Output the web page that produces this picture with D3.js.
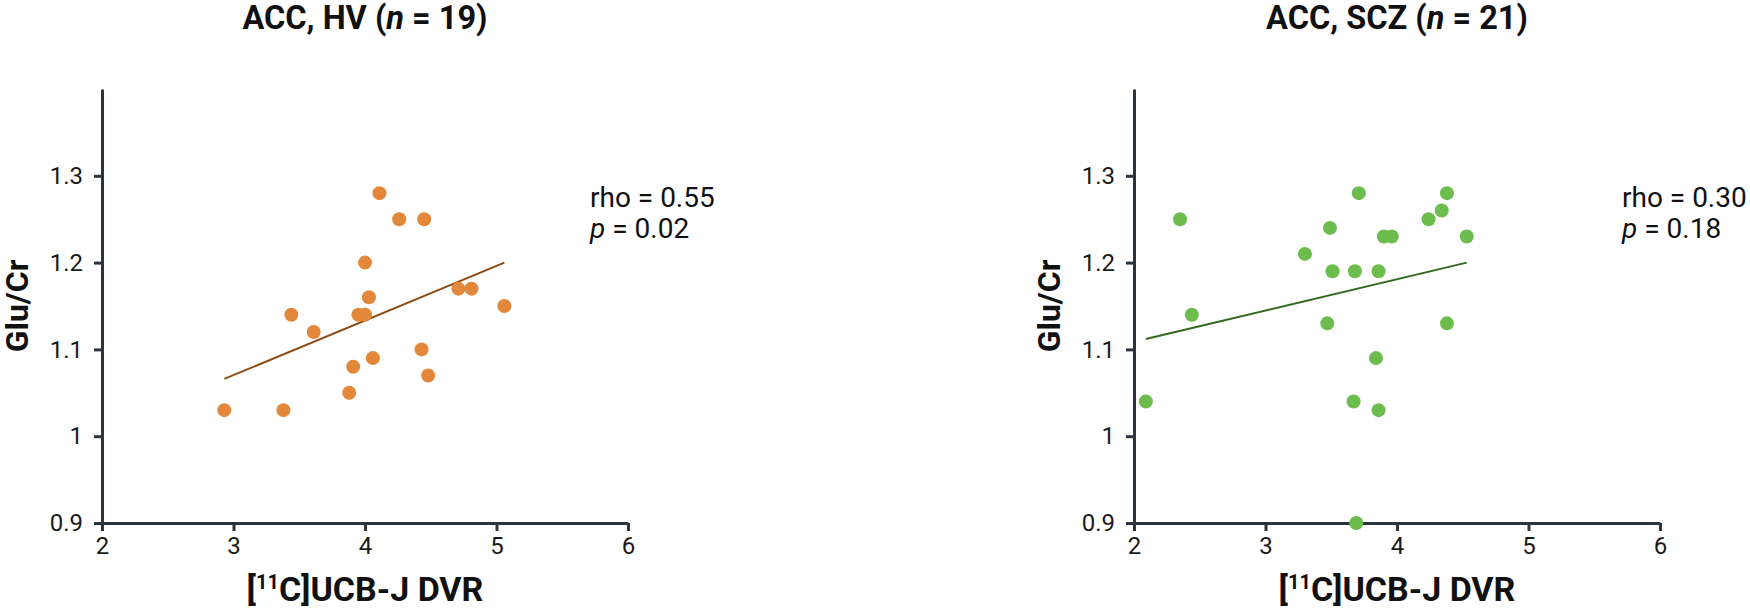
<!DOCTYPE html>
<html>
<head>
<meta charset="utf-8">
<script src="https://cdn.jsdelivr.net/npm/d3@7"></script>
<style>
  body { margin: 0; background: #fff; }
  svg { display: block; font-family: Roboto, "Noto Sans", sans-serif; }
</style>
</head>
<body>
<div id="chart"></div>
<script>
// Data
const hvDvr = [4.11, 4.26, 4.45, 4.00, 4.03, 3.44, 3.95, 4.00, 3.61, 4.71, 4.81, 5.06, 4.43, 4.06, 3.91, 4.48, 3.88, 2.93, 3.38];
const hvGlu = [1.28, 1.25, 1.25, 1.20, 1.16, 1.14, 1.14, 1.14, 1.12, 1.17, 1.17, 1.15, 1.10, 1.09, 1.08, 1.07, 1.05, 1.03, 1.03];

const sczDvr = [3.71, 4.38, 4.34, 2.35, 4.24, 3.49, 3.90, 3.96, 4.53, 3.30, 3.51, 3.68, 3.86, 2.44, 3.47, 4.38, 3.84, 2.09, 3.67, 3.86, 3.69];
const sczGlu = [1.28, 1.28, 1.26, 1.25, 1.25, 1.24, 1.23, 1.23, 1.23, 1.21, 1.19, 1.19, 1.19, 1.14, 1.13, 1.13, 1.09, 1.04, 1.04, 1.03, 0.90];

// fitted lines: [x start, x end], [y start, y end]
const hvFitX = [2.93, 5.06];
const hvFitY = [1.066, 1.200];
const sczFitX = [2.09, 4.53];
const sczFitY = [1.112, 1.200];

const xTicks = [2, 3, 4, 5, 6];
const yTicks = [0.9, 1.0, 1.1, 1.2, 1.3];
const yTickLabels = ["0.9", "1", "1.1", "1.2", "1.3"];

const panels = [
    { group: "HV", n: 19, x: hvDvr, y: hvGlu, fitX: hvFitX, fitY: hvFitY, rho: "0.55", p: "0.02", dot: "#e3883a", line: "#8c4b12" },
    { group: "SCZ", n: 21, x: sczDvr, y: sczGlu, fitX: sczFitX, fitY: sczFitY, rho: "0.30", p: "0.18", dot: "#6cbd4e", line: "#2f6a1f" }
];

const width = 1750, height = 608;
const axisColor = "#2c3440";

const svg = d3.select("#chart")
    .append("svg")
    .attr("width", width)
    .attr("height", height);

// left edge of each plot's x axis
const panelLeft = [102, 1134];
const plotW = 526;
const plotTop = 89, plotBottom = 523;

panels.forEach((d, i) => {
    const x = d3.scaleLinear().domain([2, 6]).range([panelLeft[i], panelLeft[i] + plotW]);
    const y = d3.scaleLinear().domain([0.9, 1.4]).range([plotBottom, plotTop]);

    const g = svg.append("g");

    // title
    const title = g.append("text")
        .attr("x", (x.range()[0] + x.range()[1]) / 2)
        .attr("y", 29)
        .attr("text-anchor", "middle")
        .attr("font-size", 32.5)
        .attr("font-weight", "bold")
        .attr("fill", "#111");
    title.append("tspan").text(`ACC, ${d.group} (`);
    title.append("tspan").attr("font-style", "italic").text("n");
    title.append("tspan").text(` = ${d.n})`);

    // x axis
    const xAxis = g.append("g")
        .attr("transform", `translate(0,${plotBottom})`)
        .call(d3.axisBottom(x).tickValues(xTicks).tickFormat(d3.format("d")).tickSize(8).tickPadding(6).tickSizeOuter(0));

    // y axis
    const yAxis = g.append("g")
        .attr("transform", `translate(${x.range()[0]},0)`)
        .call(d3.axisLeft(y).tickValues(yTicks).tickFormat((v, k) => yTickLabels[k]).tickSize(8).tickPadding(11).tickSizeOuter(0));

    [xAxis, yAxis].forEach(a => {
        a.select(".domain").attr("stroke", axisColor).attr("stroke-width", 3);
        a.selectAll(".tick line").attr("stroke", axisColor).attr("stroke-width", 3);
        a.selectAll(".tick text")
            .attr("font-family", "Roboto, sans-serif")
            .attr("font-size", 24)
            .attr("fill", "#1a1a1a");
    });

    // axis titles
    const xl = g.append("text")
        .attr("x", (x.range()[0] + x.range()[1]) / 2)
        .attr("y", 601)
        .attr("text-anchor", "middle")
        .attr("font-size", 34)
        .attr("font-weight", "bold")
        .attr("fill", "#111");
    xl.append("tspan").text("[");
    xl.append("tspan").attr("font-size", 20).attr("dy", -12).text("11");
    xl.append("tspan").attr("dy", 12).text("C]UCB-J DVR");

    g.append("text")
        .attr("transform", `translate(${x.range()[0] - 74},${(plotTop + plotBottom) / 2}) rotate(-90)`)
        .attr("text-anchor", "middle")
        .attr("font-size", 32)
        .attr("font-weight", "bold")
        .attr("fill", "#111")
        .text("Glu/Cr");

    // regression line
    g.append("line")
        .attr("x1", x(d.fitX[0]))
        .attr("y1", y(d.fitY[0]))
        .attr("x2", x(d.fitX[1]))
        .attr("y2", y(d.fitY[1]))
        .attr("stroke", d.line)
        .attr("stroke-width", 2);

    // points
    g.append("g")
        .selectAll("circle")
        .data(d.x.map((v, k) => [v, d.y[k]]))
        .join("circle")
        .attr("cx", p => x(p[0]))
        .attr("cy", p => y(p[1]))
        .attr("r", 7)
        .attr("fill", d.dot);

    // stats
    const sx = x(6) - 38;
    g.append("text")
        .attr("x", sx)
        .attr("y", 207)
        .attr("font-size", 28)
        .attr("fill", "#111")
        .text(`rho = ${d.rho}`);
    const pt = g.append("text")
        .attr("x", sx)
        .attr("y", 238)
        .attr("font-size", 28)
        .attr("fill", "#111");
    pt.append("tspan").attr("font-style", "italic").text("p");
    pt.append("tspan").text(` = ${d.p}`);
});
</script>
</body>
</html>
